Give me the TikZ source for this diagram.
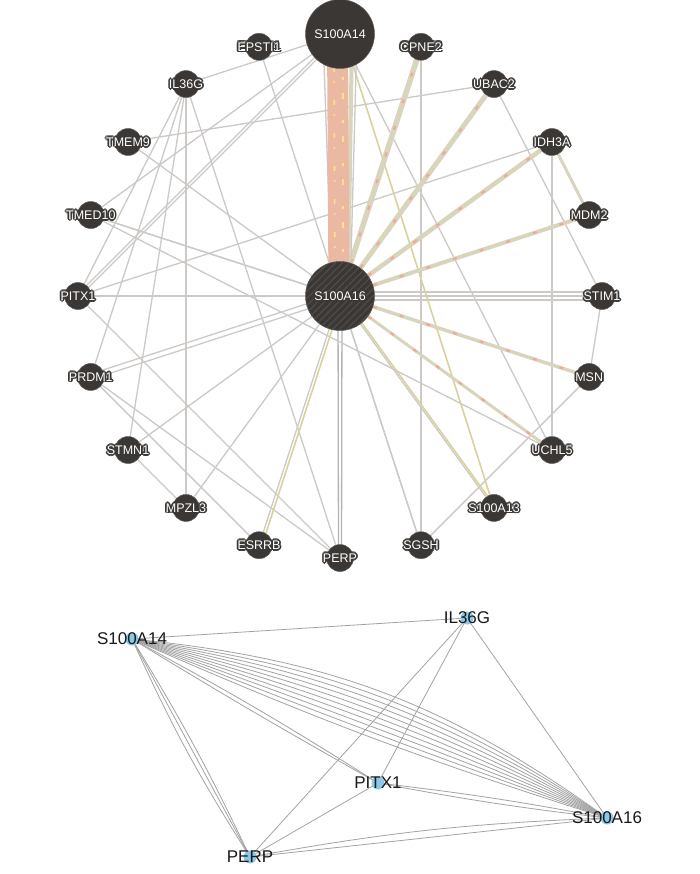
\documentclass[tikz,border=0pt]{standalone}
\usepackage{fontspec}
\setmainfont{Liberation Sans}
\usetikzlibrary{patterns.meta}
\definecolor{nd}{HTML}{3A3734}
\definecolor{hatch}{HTML}{4E4B48}
\definecolor{eg}{HTML}{CCC9C7}
\definecolor{egd}{HTML}{B5B2B0}
\definecolor{kh}{HTML}{D9D5BC}
\definecolor{pk}{HTML}{F0A89C}
\definecolor{sal}{HTML}{EBB9A3}
\definecolor{yel}{HTML}{F6E48A}
\definecolor{khy}{HTML}{D9D29C}
\definecolor{bl}{HTML}{8CC8E8}
\definecolor{be}{HTML}{A3A3A3}
\pgfdeclarelayer{back}
\pgfdeclarelayer{edges}
\pgfsetlayers{back,edges,main}
\newcommand\hc[3]{\rlap{\hspace*{#1}\raisebox{#2}{\textcolor{nd}{#3}}}}
\newcommand\halo[1]{\hc{1.7pt}{0pt}{#1}\hc{-1.7pt}{0pt}{#1}\hc{0pt}{1.7pt}{#1}\hc{0pt}{-1.7pt}{#1}\hc{1.2pt}{1.2pt}{#1}\hc{-1.2pt}{1.2pt}{#1}\hc{1.2pt}{-1.2pt}{#1}\hc{-1.2pt}{-1.2pt}{#1}\textcolor{white}{#1}}
\tikzset{
  sn/.style={circle, fill=nd, draw=nd!80!white, line width=0.5pt, minimum size=27pt, inner sep=0pt},
  bn/.style={circle, fill=nd, draw=nd!80!white, line width=0.5pt, minimum size=69pt, inner sep=0pt},
  lbl/.style={inner sep=0pt, font=\fontsize{12.5}{13}\selectfont},
  ge/.style={draw=eg, line width=1.3pt},
  ged/.style={draw=egd, line width=1.3pt},
  ke/.style={draw=kh, line width=#1}, ke/.default=4pt,
  pkd/.style={draw=pk, line width=2.2pt, dash pattern=on 4pt off 24pt},
  ky/.style={draw=khy, line width=1.6pt},
  bdot/.style={circle, fill=bl, minimum size=13pt, inner sep=0pt},
  blbl/.style={inner sep=0pt, font=\fontsize{17}{18}\selectfont, text=black!90},
  be/.style={draw=be, line width=0.8pt}
}
\newcommand\kedge[3]{\draw[ke=#3] (#1) -- (#2); \draw[pkd] (#1) -- (#2);}
\begin{document}
\begin{tikzpicture}[x=1pt,y=-1pt]
\useasboundingbox (0,0) rectangle (700,874);
\begin{pgfonlayer}{back}
\fill[white] (0,0) rectangle (700,874);
\end{pgfonlayer}
% ---------- top network nodes ----------
\node[bn] (a14) at (340,34) {};
\node[lbl] (a14-l) at (a14) {\halo{S100A14}};
\node[bn, postaction={pattern={Lines[angle=45,distance=5pt,line width=1.3pt]}, pattern color=hatch}] (a16) at (340,296) {};
\node[lbl] (a16-l) at (a16) {\halo{S100A16}};
\foreach \n/\a/\t in {ep/108/EPSTI1, il/126/IL36G, tm/144/TMEM9, td/162/TMED10, pi/180/PITX1,
  pr/198/PRDM1, st/216/STMN1, mp/234/MPZL3, es/252/ESRRB, pe/270/PERP, sg/288/SGSH,
  a13/306/S100A13, uc/324/UCHL5, ms/342/MSN, sti/0/STIM1, md/18/MDM2, id/36/IDH3A,
  ub/54/UBAC2, cp/72/CPNE2}{
  \path (340,296) ++(-\a:262) node[sn] (\n) {};
  \node[lbl] (\n-l) at (\n) {\halo{\t}};
}
% ---------- top network edges ----------
\begin{pgfonlayer}{edges}
% gray edges
\draw[ge] (a16) -- (pi);
\draw[ge] (a16) -- (td);
\draw[ge] ([yshift=-2.5pt]a16.center) -- ([yshift=-2.5pt]pr.center);
\draw[ge] ([yshift=3pt]a16.center) -- ([yshift=3pt]pr.center);
\draw[ge] (a16) -- (st);
\draw[ge] (a16) -- (mp);
\draw[ge] (a16) -- (es);
\draw[ged] ([xshift=-2pt]a16.center) -- ([xshift=-1.5pt]pe.center);
\draw[ged] ([xshift=2pt]a16.center) -- ([xshift=1.5pt]pe.center);
\draw[ge] (a16) -- (sg);
\draw[ge] (a16) -- (a13);
\draw[ge] ([yshift=-4pt]a16.center) -- ([yshift=-4pt]sti.center);
\draw[ge] ([yshift=4pt]a16.center) -- ([yshift=4pt]sti.center);
\draw[ge] ([xshift=-2pt]a14.center) -- ([xshift=-2pt]pi.center);
\draw[ge] ([xshift=2pt]a14.center) -- ([xshift=2pt]pi.center);
\draw[ge] (a14) -- (td);
\draw[ge] (a14) -- (il);
\draw[ge] (a14) -- (uc);
\draw[ge] (il) -- (pi);
\draw[ge] (il) -- (pr);
\draw[ge] (il) -- (st);
\draw[ge] (il) -- (mp);
\draw[ge] (il) -- (pe);
\draw[ge] (tm) -- (ub);
\draw[ge] (tm) -- (uc);
\draw[ge] (td) -- (ms);
\draw[ge] (td) -- (uc);
\draw[ge] (pi) -- (sti);
\draw[ge] (pi) -- (id);
\draw[ge] (pi) -- (pe);
\draw[ge] (pr) -- (pe);
\draw[ge] (pr) -- (es);
\draw[ge] (st) -- (mp);
\draw[ge] (ep) -- (sg);
\draw[ge] (cp) -- (sg);
\draw[ge] (ub) -- (sti);
\draw[ge] (id) -- (uc);
\draw[ge] (sti) -- (ms);
\draw[ge] (ms) -- (sg);
% khaki (co-expression) edges
\draw[ky] ([xshift=3pt]a14.center) -- (a13);
\draw[ky] ([xshift=3pt]a16.center) -- ([xshift=3pt]es.center);
\draw[ky] ([yshift=3pt]a16.center) -- ([yshift=3pt]a13.center);
\kedge{a16}{cp}{5.5pt}
\kedge{a16}{ub}{5pt}
\kedge{a16}{id}{4.5pt}
\kedge{a16}{md}{4pt}
\kedge{a16}{ms}{3.5pt}
\kedge{a16}{uc}{3pt}
\draw[ke=3pt] (id) -- (md);
% main thick band S100A14 -- S100A16
\draw[ge] ([xshift=-17pt]a14.center) -- ([xshift=-8pt]a16.center);
\draw[ge] ([xshift=17pt]a14.center) -- ([xshift=10pt]a16.center);
\draw[ke=4pt] ([xshift=12pt]a14.center) -- ([xshift=8pt]a16.center);
\draw[draw=sal, line width=21pt] ([xshift=-2.5pt]a14.center) -- ([xshift=-1pt]a16.center);
\draw[draw=yel, line width=1.6pt, dash pattern=on 5pt off 9pt on 2pt off 17pt] ([xshift=-6pt]a14.center) -- ([xshift=-5pt]a16.center);
\draw[draw=yel, line width=1.4pt, dash pattern=on 3pt off 13pt on 6pt off 21pt] ([xshift=3pt]a14.center) -- ([xshift=3pt]a16.center);
\end{pgfonlayer}
% ---------- bottom network ----------
\node[bdot] (b14) at (132,639) {};
\node[bdot] (bil) at (467,618) {};
\node[bdot] (bpi) at (378,783) {};
\node[bdot] (b16) at (607,818) {};
\node[bdot] (bpe) at (250,857) {};
\node[blbl] (b14-l) at (b14) {S100A14};
\node[blbl] (bil-l) at (bil) {IL36G};
\node[blbl] (bpi-l) at (bpi) {PITX1};
\node[blbl] (b16-l) at (b16) {S100A16};
\node[blbl] (bpe-l) at (bpe) {PERP};
\begin{pgfonlayer}{edges}
\draw[be] (b14.center) -- (bil.center);
\foreach \b in {-3,-1,1,3,5,7,9,11,13,15}{
  \draw[be] (b14.center) to[bend left=\b] (b16.center);
}
\draw[be] (b14.center) to[bend left=2] (bpi.center);
\draw[be] (b14.center) to[bend right=1] (bpi.center);
\draw[be] (b14.center) to[bend left=3] (bpe.center);
\draw[be] (b14.center) -- (bpe.center);
\draw[be] (b14.center) to[bend right=4] (bpe.center);
\draw[be] (bil.center) -- (bpe.center);
\draw[be] (bil.center) -- (bpi.center);
\draw[be] (bil.center) -- (b16.center);
\draw[be] (bpi.center) -- (bpe.center);
\draw[be] (bpi.center) to[bend left=2] (b16.center);
\draw[be] (bpi.center) to[bend right=2] (b16.center);
\draw[be] (bpe.center) -- (b16.center);
\draw[be] (bpe.center) to[bend left=4] (b16.center);
\end{pgfonlayer}
\end{tikzpicture}
\end{document}
